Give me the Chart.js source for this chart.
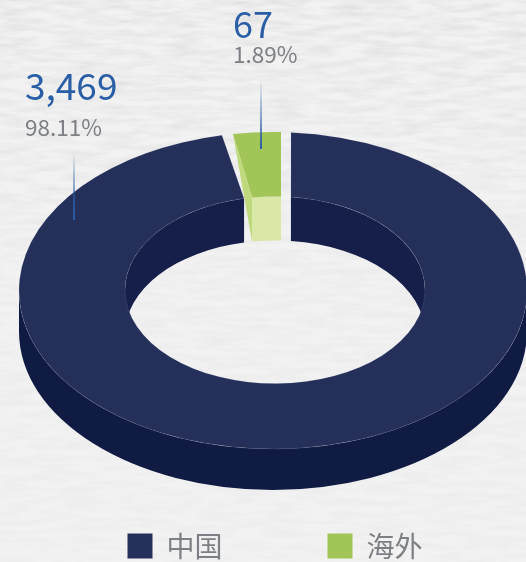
<!DOCTYPE html>
<html>
<head>
<meta charset="utf-8">
<script src="https://cdn.jsdelivr.net/npm/chart.js@4"></script>
<style>
html,body{margin:0;padding:0;width:526px;height:562px;overflow:hidden;background:#f0f0f0}
#bg{position:absolute;left:0;top:0;width:526px;height:562px}
#wrap{position:absolute;left:0;top:0;width:526px;height:562px}
</style>
</head>
<body>
<svg id="bg" xmlns="http://www.w3.org/2000/svg" width="526" height="562">
  <defs>
    <filter id="grain" x="0" y="0" width="100%" height="100%">
      <feTurbulence type="fractalNoise" baseFrequency="0.03 0.16" numOctaves="4" seed="7"/>
      <feColorMatrix type="matrix" values="0 0 0 0 0.5  0 0 0 0 0.5  0 0 0 0 0.5  1.2 0 0 0 -0.42"/>
    </filter>
    <linearGradient id="fade" x1="0" y1="0" x2="0" y2="1">
      <stop offset="0" stop-color="#fff" stop-opacity="0.5"/>
      <stop offset="0.5" stop-color="#fff" stop-opacity="0.2"/>
      <stop offset="1" stop-color="#fff" stop-opacity="0.14"/>
    </linearGradient>
    <mask id="m"><rect width="526" height="562" fill="url(#fade)"/></mask>
  </defs>
  <rect width="526" height="562" fill="#f2f2f2"/>
  <rect width="526" height="562" filter="url(#grain)" mask="url(#m)"/>
</svg>
<div id="wrap"><canvas id="c" width="526" height="562"></canvas></div>
<script>
const categories = ['中国', '海外'];
const seriesValues = [3469, 67];
const valueLabels = ['3,469', '67'];
const percentLabels = ['98.11%', '1.89%'];

const topColors = ['#242f5a', '#a1c557'];
const innerWallColors = ['#161e4a', '#d9e8a6'];
const outerWallColor = '#101b44';
const cutFaceColor = '#bfd97c';
const valueColor = '#2a5ea6';
const percentColor = '#7c7f84';

const RAD = Math.PI / 180;
// Projection of the flat ring onto the picture's tilted ellipse
const outerC = {x: 273, y: 290.5}, innerC = {x: 275, y: 290};
const outerRx = 254, tilt = 0.624, outerDepth = 41, innerDepth = 44;
// The reference pads the tiny slice and cuts the gaps by hand: degrees added to each edge
const edgeAdjust = [
  {startOuter: 4.35, startInner: 6.39, endOuter: -4.49, endInner: -4.79},
  {startOuter: -1.95, startInner: -1.69, endOuter: 2.09, endInner: 2.59}
];
// Text and leader placement per slice
const labelPos = [
  {x: 25, size: 37, valueY: 100, pctY: 136, lx: 74, ly0: 152, ly1: 220},
  {x: 233, size: 36, valueY: 38, pctY: 63, lx: 261, ly0: 80, ly1: 149}
];

const ring3d = {
  id: 'ring3d',
  afterLayout(chart) {
    const legend = chart.legend;
    legend.top = 532 - chart.options.plugins.legend.labels.padding;
    legend.left += 12;
    legend.right += 12;
  },
  beforeDatasetsDraw(chart) {
    const ctx = chart.ctx;
    const arcs = chart.getDatasetMeta(0).data;
    const k = outerRx / arcs[0].outerRadius;
    const orx = arcs[0].outerRadius * k, ory = orx * tilt;
    const irx = arcs[0].innerRadius * k, iry = irx * tilt;

    // outer wall, front half only
    ctx.beginPath();
    ctx.ellipse(outerC.x, outerC.y, orx, ory, 0, 0, Math.PI, false);
    ctx.ellipse(outerC.x, outerC.y + outerDepth, orx, ory, 0, Math.PI, 0, true);
    ctx.closePath();
    ctx.fillStyle = outerWallColor;
    ctx.fill();

    const shapes = arcs.map((a, i) => {
      const e = edgeAdjust[i];
      return {
        o0: a.startAngle + e.startOuter * RAD, o1: a.endAngle + e.endOuter * RAD,
        i0: a.startAngle + e.startInner * RAD, i1: a.endAngle + e.endInner * RAD
      };
    });

    // inner wall, back half only
    shapes.forEach((s, i) => {
      [[s.i0, s.i1], [s.i0 + 2 * Math.PI, s.i1 + 2 * Math.PI], [s.i0 - 2 * Math.PI, s.i1 - 2 * Math.PI]].forEach(([p, q]) => {
        const a = Math.max(p, -Math.PI), b = Math.min(q, 0);
        if (b <= a) return;
        ctx.beginPath();
        ctx.ellipse(innerC.x, innerC.y, irx, iry, 0, a, b, false);
        ctx.ellipse(innerC.x, innerC.y + innerDepth, irx, iry, 0, b, a, true);
        ctx.closePath();
        ctx.fillStyle = innerWallColors[i];
        ctx.fill();
      });
    });

    // top faces
    shapes.forEach((s, i) => {
      ctx.beginPath();
      ctx.ellipse(outerC.x, outerC.y, orx, ory, 0, s.o0, s.o1, false);
      ctx.ellipse(innerC.x, innerC.y, irx, iry, 0, s.i1, s.i0, true);
      ctx.closePath();
      ctx.fillStyle = topColors[i];
      ctx.fill();
      if (i === 0) {
        ctx.strokeStyle = 'rgba(190,200,225,0.16)';
        ctx.lineWidth = 0.7;
        ctx.stroke();
      }
    });

    // visible cut face of the small slice
    const g = shapes[1];
    const px = outerC.x + orx * Math.cos(g.o0), py = outerC.y + ory * Math.sin(g.o0);
    const qx = innerC.x + irx * Math.cos(g.i0), qy = innerC.y + iry * Math.sin(g.i0);
    ctx.beginPath();
    ctx.moveTo(px, py);
    ctx.lineTo(qx, qy);
    ctx.lineTo(qx, qy + innerDepth);
    ctx.closePath();
    ctx.fillStyle = cutFaceColor;
    ctx.fill();

    // leaders and labels
    labelPos.forEach((p, i) => {
      const grad = ctx.createLinearGradient(0, p.ly0, 0, p.ly1);
      grad.addColorStop(0, 'rgba(42,94,166,0)');
      grad.addColorStop(1, 'rgba(42,94,166,1)');
      ctx.fillStyle = grad;
      ctx.fillRect(p.lx - 1, p.ly0, 2, p.ly1 - p.ly0);
      ctx.textAlign = 'left';
      ctx.textBaseline = 'alphabetic';
      ctx.font = '400 ' + p.size + 'px "Noto Sans CJK SC"';
      ctx.fillStyle = valueColor;
      ctx.fillText(valueLabels[i], p.x, p.valueY);
      ctx.font = '400 22.5px "Noto Sans CJK SC"';
      ctx.fillStyle = percentColor;
      ctx.fillText(percentLabels[i], p.x, p.pctY);
    });
    return false;
  }
};

new Chart(document.getElementById('c'), {
  type: 'doughnut',
  data: {
    labels: categories,
    datasets: [{data: seriesValues, backgroundColor: topColors, borderWidth: 0}]
  },
  options: {
    responsive: false,
    animation: false,
    rotation: -0.29,
    cutout: '59.05%',
    plugins: {
      tooltip: {enabled: false},
      legend: {
        position: 'bottom',
        labels: {
          boxWidth: 25, boxHeight: 25, padding: 105, color: percentColor,
          font: {family: '"Noto Sans CJK SC"', size: 28, weight: 400}
        }
      }
    }
  },
  plugins: [ring3d]
});
</script>
</body>
</html>
